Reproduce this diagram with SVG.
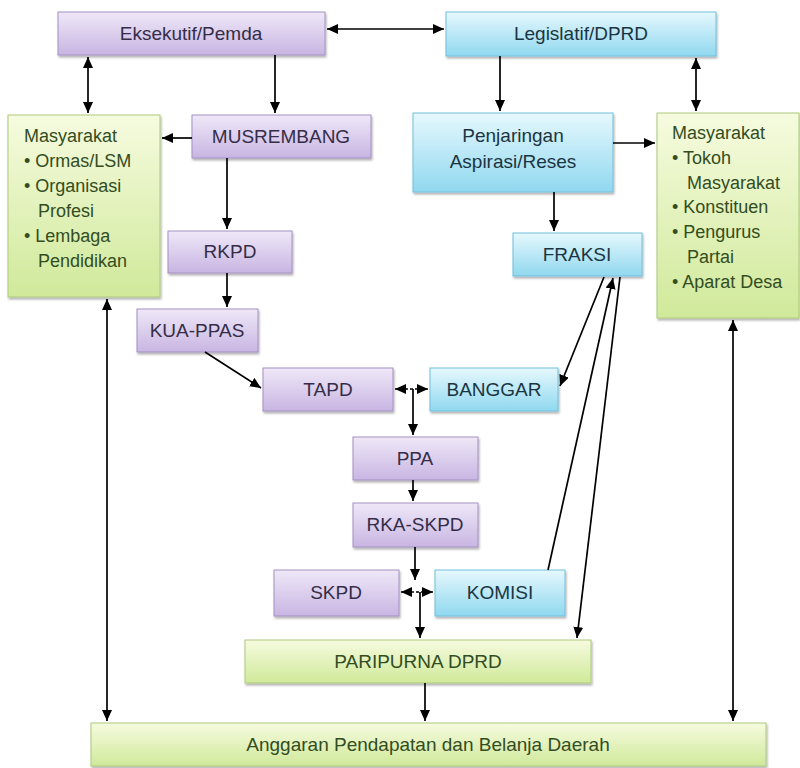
<svg xmlns="http://www.w3.org/2000/svg" width="800" height="768" viewBox="0 0 800 768">
<style>
.t{font-family:"Liberation Sans",Arial,sans-serif;font-size:19px;text-anchor:middle}
.l{font-family:"Liberation Sans",Arial,sans-serif;font-size:18px}
.tp{fill:#352d48}
.tb{fill:#1a3542}
.tg{fill:#334d22}
.bp{fill:url(#gp);stroke:#a391c2;stroke-width:1;filter:url(#sh)}
.bb{fill:url(#gb);stroke:#72bfdb;stroke-width:1;filter:url(#sh)}
.bg{fill:url(#gg);stroke:#adc97f;stroke-width:1;filter:url(#sh)}
.c{stroke:#000;stroke-width:1.7;fill:none;marker-end:url(#ah)}
.d{marker-start:url(#ah)}
.ds{stroke-dasharray:3 2}
</style>
<defs>
<linearGradient id="gp" x1="0" y1="0" x2="0" y2="1"><stop offset="0" stop-color="#efe8f8"/><stop offset="1" stop-color="#c8b5e2"/></linearGradient>
<linearGradient id="gb" x1="0" y1="0" x2="0" y2="1"><stop offset="0" stop-color="#e6f8fd"/><stop offset="1" stop-color="#90d8ef"/></linearGradient>
<linearGradient id="gg" x1="0" y1="0" x2="0" y2="1"><stop offset="0" stop-color="#f6fbdf"/><stop offset="1" stop-color="#d0e99a"/></linearGradient>
<filter id="sh" x="-5%" y="-10%" width="110%" height="130%"><feDropShadow dx="1" dy="2" stdDeviation="1.2" flood-color="#000" flood-opacity="0.3"/></filter>
<marker id="ah" markerUnits="userSpaceOnUse" markerWidth="12" markerHeight="11" refX="11" refY="5" orient="auto-start-reverse"><path d="M0,0 L11,5 L0,10 z" fill="#000"/></marker>
</defs>

<g id="eksekutif"><rect class="bp" x="58" y="12" width="267" height="43"/><text class="t tp" x="191" y="40">Eksekutif/Pemda</text></g>
<g id="legislatif"><rect class="bb" x="446" y="12" width="270" height="44"/><text class="t tb" x="581" y="40">Legislatif/DPRD</text></g>
<g id="masyarakat-kiri"><rect class="bg" x="8" y="115" width="152" height="182"/>
<text class="l tg" x="24" y="142">Masyarakat</text>
<text class="l tg" x="24" y="167">• Ormas/LSM</text>
<text class="l tg" x="24" y="192">• Organisasi</text>
<text class="l tg" x="38" y="217">Profesi</text>
<text class="l tg" x="24" y="242">• Lembaga</text>
<text class="l tg" x="38" y="267">Pendidikan</text></g>
<g id="musrembang"><rect class="bp" x="192" y="115" width="179" height="43"/><text class="t tp" x="281" y="143">MUSREMBANG</text></g>
<g id="penjaringan"><rect class="bb" x="413" y="113" width="200" height="79"/><text class="t tb" x="513" y="142">Penjaringan</text><text class="t tb" x="513" y="168">Aspirasi/Reses</text></g>
<g id="masyarakat-kanan"><rect class="bg" x="657" y="113" width="142" height="205"/>
<text class="l tg" x="672" y="139">Masyarakat</text>
<text class="l tg" x="672" y="164">• Tokoh</text>
<text class="l tg" x="687" y="189">Masyarakat</text>
<text class="l tg" x="672" y="213">• Konstituen</text>
<text class="l tg" x="672" y="238">• Pengurus</text>
<text class="l tg" x="687" y="263">Partai</text>
<text class="l tg" x="672" y="288">• Aparat Desa</text></g>
<g id="rkpd"><rect class="bp" x="168" y="231" width="124" height="42"/><text class="t tp" x="230" y="258">RKPD</text></g>
<g id="fraksi"><rect class="bb" x="513" y="233" width="129" height="43"/><text class="t tb" x="577" y="261">FRAKSI</text></g>
<g id="kua-ppas"><rect class="bp" x="137" y="309" width="121" height="43"/><text class="t tp" x="197" y="337">KUA-PPAS</text></g>
<g id="tapd"><rect class="bp" x="263" y="368" width="130" height="43"/><text class="t tp" x="328" y="396">TAPD</text></g>
<g id="banggar"><rect class="bb" x="430" y="368" width="128" height="43"/><text class="t tb" x="494" y="396">BANGGAR</text></g>
<g id="ppa"><rect class="bp" x="353" y="437" width="125" height="43"/><text class="t tp" x="415" y="465">PPA</text></g>
<g id="rka-skpd"><rect class="bp" x="353" y="503" width="125" height="44"/><text class="t tp" x="415" y="531">RKA-SKPD</text></g>
<g id="skpd"><rect class="bp" x="274" y="570" width="125" height="46"/><text class="t tp" x="336" y="599">SKPD</text></g>
<g id="komisi"><rect class="bb" x="435" y="570" width="130" height="46"/><text class="t tb" x="500" y="599">KOMISI</text></g>
<g id="paripurna"><rect class="bg" x="245" y="640" width="346" height="43"/><text class="t tg" x="418" y="668">PARIPURNA DPRD</text></g>
<g id="apbd"><rect class="bg" x="91" y="723" width="675" height="43"/><text class="t tg" x="428" y="751">Anggaran Pendapatan dan Belanja Daerah</text></g>

<g id="connectors">
<line class="c d" x1="327" y1="29" x2="444" y2="29"/>
<line class="c d" x1="88" y1="57" x2="88" y2="113"/>
<line class="c" x1="275" y1="55" x2="275" y2="113"/>
<line class="c" x1="500" y1="56" x2="500" y2="111"/>
<line class="c d" x1="696" y1="58" x2="696" y2="111"/>
<line class="c" x1="192" y1="138" x2="162" y2="138"/>
<line class="c" x1="613" y1="143" x2="655" y2="143"/>
<line class="c" x1="227" y1="158" x2="227" y2="229"/>
<line class="c" x1="554" y1="192" x2="554" y2="231"/>
<line class="c" x1="227" y1="273" x2="227" y2="307"/>
<line class="c" x1="205" y1="352" x2="261" y2="388"/>
<line class="c" x1="604" y1="277" x2="560" y2="386"/>
<line class="c" x1="548" y1="570" x2="613" y2="278"/>
<line class="c" x1="620" y1="277" x2="577" y2="638"/>
<line class="c d ds" x1="395" y1="389" x2="428" y2="389"/>
<line class="c" x1="413" y1="389" x2="413" y2="435"/>
<line class="c" x1="413" y1="480" x2="413" y2="501"/>
<line class="c" x1="415" y1="547" x2="415" y2="580"/>
<line class="c d ds" x1="401" y1="592" x2="433" y2="592"/>
<line class="c" x1="420" y1="592" x2="420" y2="638"/>
<line class="c" x1="425" y1="683" x2="425" y2="721"/>
<line class="c d" x1="107" y1="299" x2="107" y2="721"/>
<line class="c d" x1="733" y1="320" x2="733" y2="721"/>
</g>
</svg>
